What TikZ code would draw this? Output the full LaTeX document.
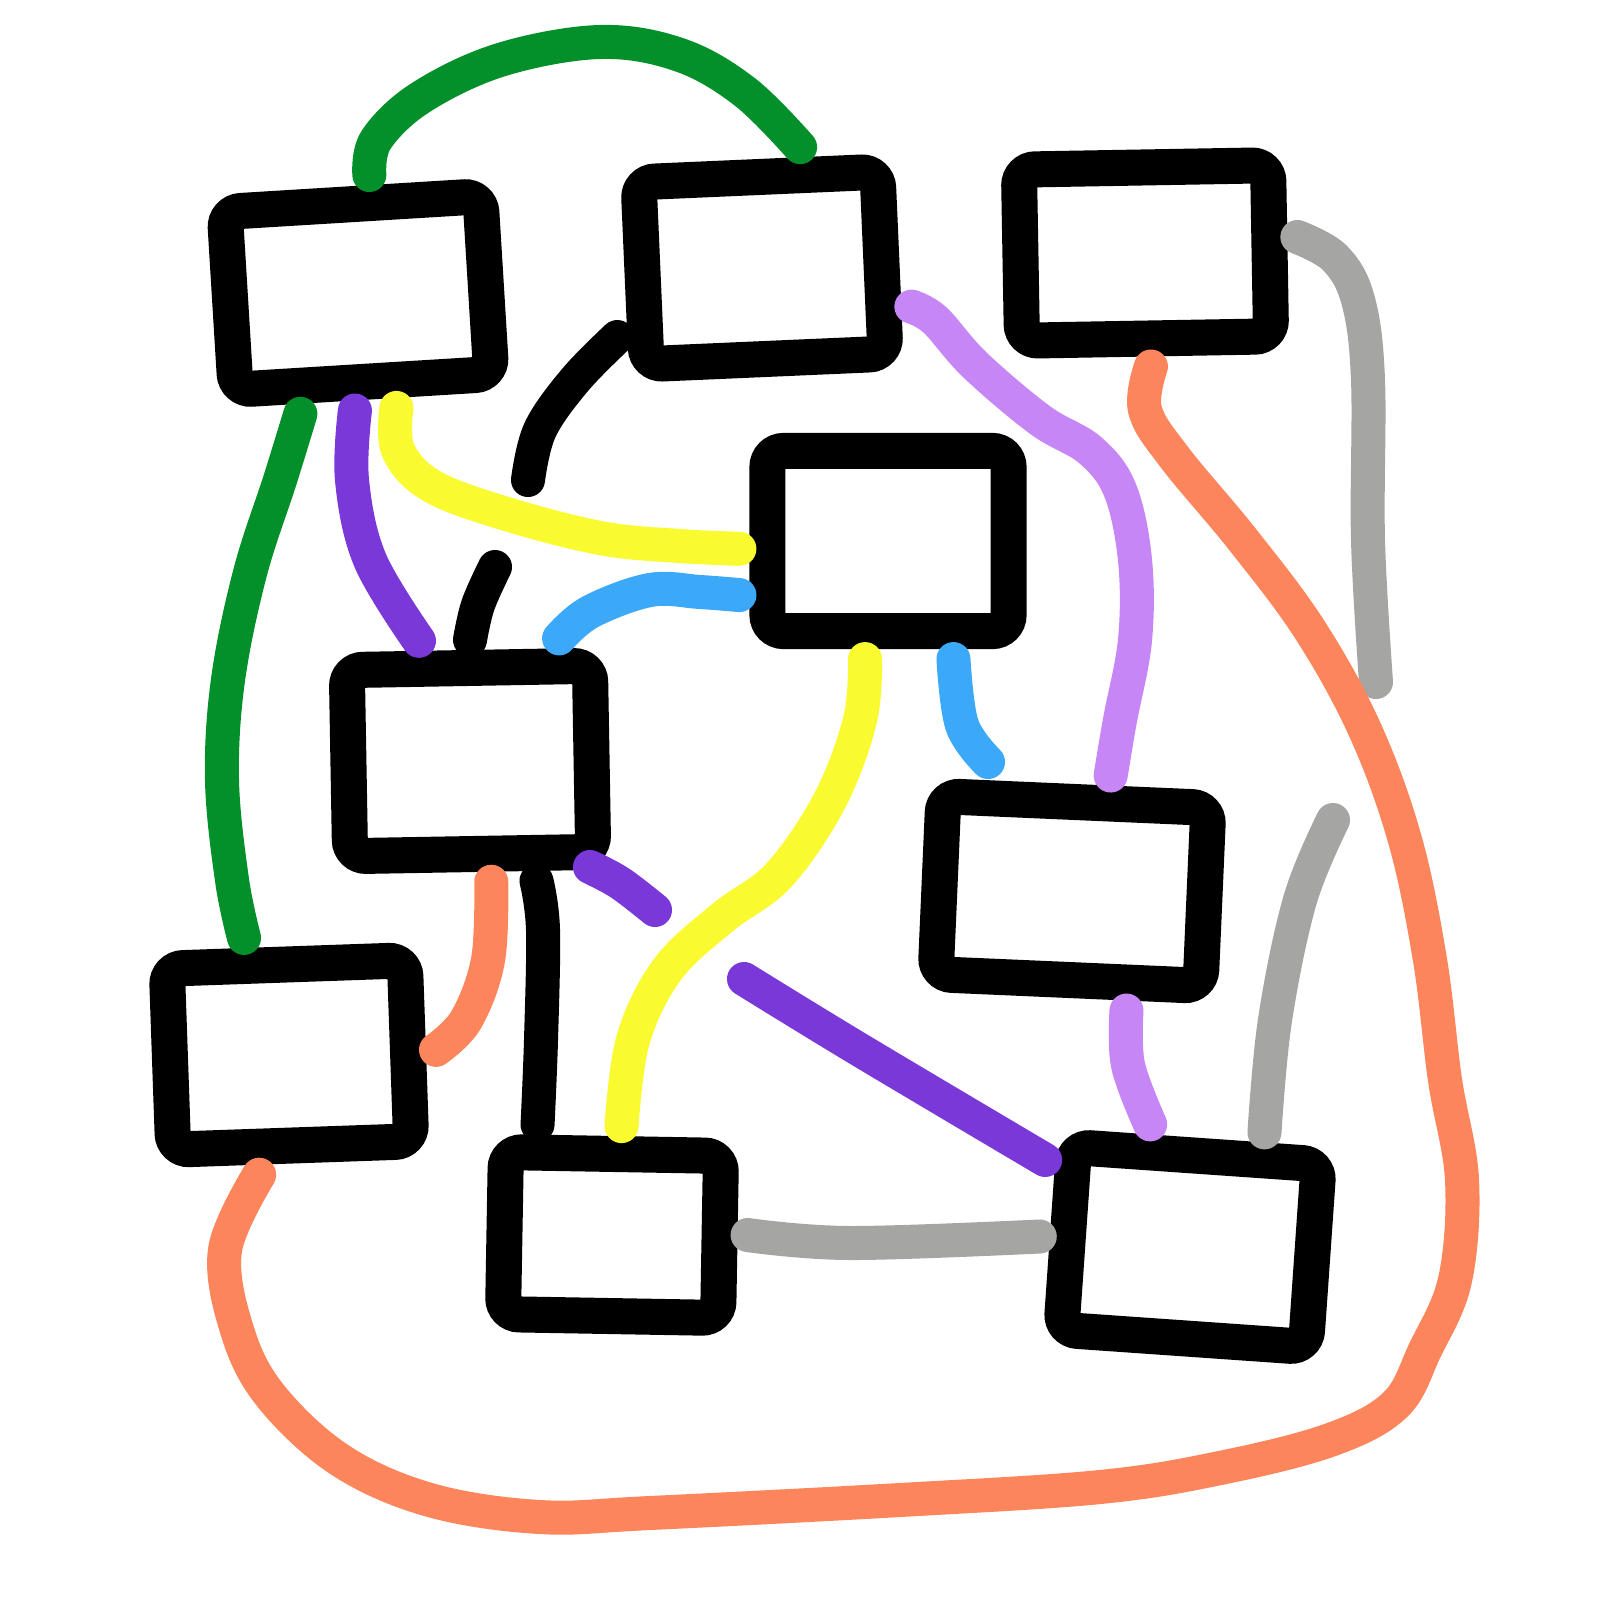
\documentclass[tikz,border=0pt]{standalone}
\definecolor{grn}{HTML}{03902B}
\definecolor{vio}{HTML}{7A38D9}
\definecolor{ylw}{HTML}{F9FA2F}
\definecolor{sky}{HTML}{3BA8F8}
\definecolor{lil}{HTML}{C686F5}
\definecolor{gry}{HTML}{A5A5A3}
\definecolor{org}{HTML}{FC855C}
\tikzset{box/.style = {draw, line width=0.36cm, rounded corners=0.16cm, inner sep=0pt, outer sep=0.28cm},
         wire/.style = {line width=0.34cm, line cap=round, line join=round}}

\begin{document}
\begin{tikzpicture}[x=0.01cm, y=-0.01cm]
\useasboundingbox (0,0) rectangle (1606,1606);
% boxes
\node [box, minimum width=2.56cm, minimum height=1.78cm, rotate=3.5] (A) at (358,293) {};
\node [box, minimum width=2.39cm, minimum height=1.82cm, rotate=2.5] (B) at (762,268) {};
\node [box, minimum width=2.49cm, minimum height=1.71cm, rotate=1] (C) at (1145,253) {};
\node [box, minimum width=2.41cm, minimum height=1.8cm] (D) at (888,541) {};
\node [box, minimum width=2.43cm, minimum height=1.86cm, rotate=1] (E) at (470,761) {};
\node [box, minimum width=2.65cm, minimum height=1.78cm, rotate=-2.5] (F) at (1072,891) {};
\node [box, minimum width=2.38cm, minimum height=1.81cm, rotate=2] (G) at (289,1055) {};
\node [box, minimum width=2.15cm, minimum height=1.62cm, rotate=-1] (H) at (612,1235) {};
\node [box, minimum width=2.45cm, minimum height=1.83cm, rotate=-4] (I) at (1190,1247) {};
% loose ends
\coordinate (kink) at (528,480);
\coordinate (stub) at (495,567);
\coordinate (skyend) at (988,762);
\coordinate (vioa) at (590,867);
\coordinate (viob) at (655,910);
\coordinate (vioc) at (744,979);
\coordinate (gryend) at (1376,682);
\coordinate (grytop) at (1333,820);
% wires
\draw [wire, grn] plot [smooth, tension=0.6] coordinates {(A.81.5) (376,140) (420,98) (500,60) (600,42) (680,55) (745,92) (B.70.5)};
\draw [wire, grn] plot [smooth, tension=0.6] coordinates {(A.241.5) (280,480) (250,573) (228,680) (222,780) (232,880) (G.109)};
\draw [wire, vio] plot [smooth, tension=0.6] coordinates {(A.265.5) (352,480) (370,560) (E.112)};
\draw [wire, ylw] plot [smooth, tension=0.6] coordinates {(A.285) (398,450) (430,485) (500,512) (600,538) (680,546) (D.183)};
\draw [wire] plot [smooth, tension=0.6] coordinates {(B.203) (575,380) (540,430) (kink)};
\draw [wire] plot [smooth, tension=0.6] coordinates {(stub) (478,605) (E.89)};
\draw [wire, sky] plot [smooth, tension=0.6] coordinates {(E.53) (590,612) (650,590) (700,592) (D.200)};
\draw [wire, lil] plot [smooth, tension=0.6] coordinates {(B.343) (935,320) (975,365) (1040,420) (1090,450) (1120,490) (1135,560) (1135,640) (1120,720) (F.74)};
\draw [wire, gry] plot [smooth, tension=0.6] coordinates {(C.5) (1335,258) (1358,300) (1368,380) (1368,540) (gryend)};
\draw [wire, org] plot [smooth, tension=0.6] coordinates {(C.272) (1145,410) (1175,458) (1243,540) (1310,630) (1365,730) (1405,840) (1430,960) (1445,1080) (1462,1180) (1455,1280) (1425,1350) (1395,1405) (1330,1440) (1220,1468) (1100,1487) (900,1500) (650,1513) (540,1517) (430,1500) (340,1460) (270,1395) (237,1330) (225,1250) (G.254)};
\draw [wire, ylw] plot [smooth, tension=0.6] coordinates {(D.259) (860,720) (830,800) (779,875) (722,918) (667,970) (633,1040) (H.86)};
\draw [wire, sky] plot [smooth, tension=0.6] coordinates {(D.299) (962,725) (skyend)};
\draw [wire, vio] plot [smooth, tension=0.6] coordinates {(vioa) (620,883) (viob)};
\draw [wire, org] plot [smooth, tension=0.6] coordinates {(E.279) (488,960) (466,1020) (G.0)};
\draw [wire] plot [smooth, tension=0.6] coordinates {(E.298) (543,930) (541,1040) (H.125)};
\draw [wire, vio] plot [smooth, tension=0.6] coordinates {(vioc) (860,1050) (I.153)};
\draw [wire, lil] plot [smooth, tension=0.6] coordinates {(F.297) (1128,1065) (I.112)};
\draw [wire, gry] plot [smooth, tension=0.6] coordinates {(grytop) (1300,900) (1275,1020) (I.61)};
\draw [wire, gry] plot [smooth, tension=0.6] coordinates {(H.1) (850,1243) (I.180)};
\end{tikzpicture}
\end{document}
